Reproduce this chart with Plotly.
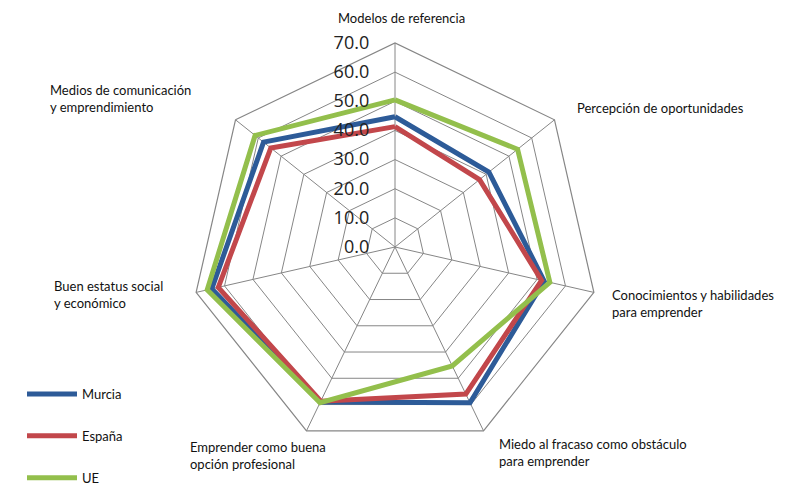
import plotly.graph_objects as go

categories = [
    "Modelos de referencia",
    "Percepción de oportunidades",
    "Conocimientos y habilidades<br>para emprender",
    "Miedo al fracaso como obstáculo<br>para emprender",
    "Emprender como buena<br>opción profesional",
    "Buen estatus social<br>y económico",
    "Medios de comunicación<br>y emprendimiento",
]
murcia = [44.7, 41.2, 52.5, 59.3, 59.0, 64.5, 57.7]
espana = [41.3, 37.1, 51.6, 56.0, 58.7, 62.2, 54.5]
ue = [50.5, 53.8, 54.5, 45.3, 59.3, 66.1, 61.4]
tick_vals = [0, 10, 20, 30, 40, 50, 60, 70]

series = [("Murcia", murcia, "#2D5B98"), ("España", espana, "#C2474B"), ("UE", ue, "#93BF4C")]

GRID = "#868686"
FONT = "Lato, Open Sans, sans-serif"

fig = go.Figure()
for name, vals, color in series:
    fig.add_trace(go.Scatterpolar(
        r=vals + vals[:1],
        theta=categories + categories[:1],
        mode="lines",
        name=name,
        legendgroup=name,
        line=dict(color=color, width=5),
    ))

# category labels placed outside the web, as in the original layout
label_pos = [
    (401, 18, "center"),
    (575, 108, "left"),
    (610, 303, "left"),
    (497, 452, "left"),
    (188, 455, "left"),
    (52, 294, "left"),
    (48, 99, "left"),
]
for text, (px, py, align) in zip(categories, label_pos):
    fig.add_annotation(
        text=text, x=px / 785, y=1 - py / 485, xref="paper", yref="paper",
        xanchor=align, yanchor="middle", align="left", showarrow=False,
        font=dict(family=FONT, size=13, color="#111"),
    )

fig.update_layout(
    width=785,
    height=485,
    margin=dict(l=0, r=0, t=0, b=0, autoexpand=False),
    paper_bgcolor="white",
    font=dict(family=FONT),
    polar=dict(
        domain=dict(x=[191 / 785, 599 / 785], y=[34 / 485, 442 / 485]),
        gridshape="linear",
        bgcolor="white",
        radialaxis=dict(
            range=[0, 70],
            tickvals=tick_vals,
            tickformat=".1f",
            angle=90,
            tickangle=90,
            side="counterclockwise",
            showline=False,
            ticks="outside",
            ticklen=19,
            tickcolor="rgba(0,0,0,0)",
            gridcolor=GRID,
            gridwidth=1.2,
            tickfont=dict(family="Open Sans, sans-serif", size=18, color="#222"),
        ),
        angularaxis=dict(
            direction="clockwise",
            rotation=90,
            showticklabels=False,
            ticks="",
            gridcolor=GRID,
            gridwidth=1.2,
            linecolor=GRID,
            linewidth=1.2,
        ),
    ),
    legend=dict(
        x=22 / 785, y=1 - 379 / 485, xanchor="left", yanchor="top",
        tracegroupgap=22,
        itemwidth=50,
        font=dict(family=FONT, size=13, color="#111"),
        bgcolor="rgba(0,0,0,0)",
    ),
    showlegend=True,
)

fig.write_html(
    "out.html",
    config={"displayModeBar": False},
    post_script="document.body.style.margin='0';",
)
